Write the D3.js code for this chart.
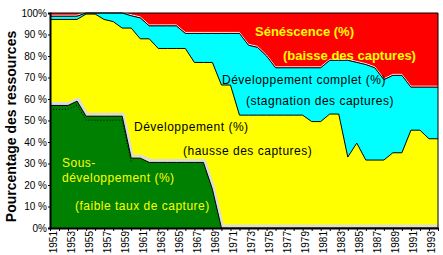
<!DOCTYPE html>
<html>
<head>
<meta charset="utf-8">
<script src="https://cdn.jsdelivr.net/npm/d3@7"></script>
<style>
  body { margin: 0; background: #fff; }
  svg text { font-family: Arial, "Liberation Sans", sans-serif; }
</style>
</head>
<body>
<div id="chart"></div>
<script>
// years shown on the category axis
const years = d3.range(1951, 1995);

// share of stocks in each phase (%)
const sousDev = [57, 57, 57, 59, 52, 52, 52, 52, 52, 32.5,
                 32.5, 30.5, 30.5, 30.5, 30.5, 30.5, 30.5, 30.5, 18, 0,
                 0, 0, 0, 0, 0, 0, 0, 0, 0, 0,
                 0, 0, 0, 0, 0, 0, 0, 0, 0, 0,
                 0, 0, 0, 0];
const dev = [40, 40, 40, 38, 47.5, 47.5, 45, 44, 41, 60.5,
             55.5, 57.5, 53, 53, 53, 53, 46.5, 46.5, 59, 66.5,
             66.5, 52.5, 52.5, 52.5, 52.5, 52.5, 52.5, 52.5, 52.5, 49.5,
             49.5, 53, 53, 33, 39.5, 31.6, 31.6, 31.6, 35, 35,
             45.5, 45.5, 41.5, 41.5];
const devComplet = [1.5, 1.5, 1.5, 1.5, 0.5, 0.5, 3, 4, 7, 5.7,
                    9.7, 6, 10.5, 10.5, 10.5, 7, 13.5, 13.5, 13.5, 24,
                    24, 38, 32.5, 31.5, 27.5, 22, 22, 22, 22, 25,
                    25, 25, 25, 45, 37.5, 44.4, 42.9, 37.4, 36, 36,
                    20, 20, 24, 24];
const senescence = [1.5, 1.5, 1.5, 1.5, 0, 0, 0, 0, 0, 1.3,
                    2.3, 6, 6, 6, 6, 9.5, 9.5, 9.5, 9.5, 9.5,
                    9.5, 9.5, 15, 16, 20, 25.5, 25.5, 25.5, 25.5, 25.5,
                    25.5, 22, 22, 22, 23, 24, 25.5, 31, 29, 29,
                    34.5, 34.5, 34.5, 34.5];

const yTicks = d3.range(0, 101, 10);

const keys = ["sous", "dev", "complet", "sen"];
const colors = {sous: "#008000", dev: "#ffff00", complet: "#00ffff", sen: "#ff0000"};

const table = years.map((yr, i) => ({
  year: yr, sous: sousDev[i], dev: dev[i], complet: devComplet[i], sen: senescence[i]
}));

const W = 443, H = 255;
const margin = {top: 13, right: 5, bottom: 27, left: 50};
const width = W - margin.left - margin.right,
      height = H - margin.top - margin.bottom;

const svg = d3.select("#chart").append("svg")
  .attr("width", W).attr("height", H);

const g = svg.append("g")
  .attr("transform", `translate(${margin.left},${margin.top})`);

const x = d3.scaleLinear().domain([1951, 1994]).range([0, width]);
const y = d3.scaleLinear().domain([0, 100]).range([height, 0]);

const stack = d3.stack().keys(keys);
const series = stack(table);

const area = d3.area()
  .x(d => x(d.data.year))
  .y0(d => y(d[0]))
  .y1(d => y(d[1]));

const topLine = d3.line()
  .x(d => x(d.data.year))
  .y(d => y(d[1]));

g.selectAll(".layer")
  .data(series)
  .enter().append("path")
  .attr("class", "layer")
  .attr("d", area)
  .attr("fill", d => colors[d.key]);

// light shadow over the green band
g.append("path")
  .attr("d", topLine(series[0]))
  .attr("fill", "none")
  .attr("stroke", "#dcdcdc")
  .attr("stroke-width", 3)
  .attr("transform", "translate(1,-2)");
g.append("path")
  .attr("d", area(series[0]))
  .attr("fill", colors.sous);
g.append("path")
  .attr("d", topLine(series[0]))
  .attr("fill", "none")
  .attr("stroke", "#000")
  .attr("stroke-width", 1);

// dotted trace inside the green band
g.append("path")
  .attr("d", topLine(series[0].filter(d => d.data.year <= 1960)))
  .attr("fill", "none")
  .attr("stroke", "#000")
  .attr("stroke-width", 1)
  .attr("stroke-dasharray", "1,2")
  .attr("transform", "translate(0,4)");

// yellow / cyan boundary
g.append("path")
  .attr("d", topLine(series[1]))
  .attr("fill", "none")
  .attr("stroke", "#000")
  .attr("stroke-width", 1);

// cyan / red boundary
g.append("path")
  .attr("d", topLine(series[2]))
  .attr("fill", "none")
  .attr("stroke", "#fff")
  .attr("stroke-width", 1)
  .attr("transform", "translate(0,-1)");
g.append("path")
  .attr("d", topLine(series[2]))
  .attr("fill", "none")
  .attr("stroke", "#000")
  .attr("stroke-width", 1);

// frame
g.append("line").attr("x1", 0).attr("x2", width).attr("y1", 0).attr("y2", 0)
  .attr("stroke", "#000");
g.append("line").attr("x1", width).attr("x2", width).attr("y1", 0).attr("y2", height)
  .attr("stroke", "#000");

// axes
const yAxis = g.append("g")
  .call(d3.axisLeft(y)
    .tickValues(yTicks)
    .tickSize(2)
    .tickPadding(1)
    .tickFormat(d => (d === 0 || d === 100) ? d + "%" : d + " %"));
yAxis.select(".domain").attr("stroke-width", 2);
yAxis.selectAll("text").style("font-size", "10px").attr("fill", "#000");

const xAxis = g.append("g")
  .attr("transform", `translate(0,${height})`)
  .call(d3.axisBottom(x)
    .tickValues(years)
    .tickSize(3)
    .tickSizeOuter(0)
    .tickFormat(d => d % 2 === 1 ? d : ""));
xAxis.select(".domain").attr("stroke-width", 2);
xAxis.selectAll("text")
  .attr("transform", "rotate(-90)")
  .attr("x", -3)
  .attr("y", 2.5)
  .attr("dy", "0.35em")
  .style("text-anchor", "end")
  .style("font-size", "10px")
  .attr("fill", "#000");

svg.append("text")
  .attr("transform", `translate(16,${margin.top + height / 2 + 6}) rotate(-90)`)
  .attr("text-anchor", "middle")
  .style("font-size", "14px")
  .style("font-weight", "bold")
  .text("Pourcentage des ressources");

// labels in the areas
const labels = [
  {t: "Sénéscence (%)", x: 255, y: 36, c: "#ffff00", b: true},
  {t: "(baisse des captures)", x: 283, y: 60, c: "#ffff00", b: true},
  {t: "Développement complet (%)", x: 222, y: 84, c: "#000", b: false},
  {t: "(stagnation des captures)", x: 246, y: 105, c: "#000", b: false},
  {t: "Développement (%)", x: 134, y: 131, c: "#000", b: false},
  {t: "(hausse des captures)", x: 183, y: 155, c: "#000", b: false},
  {t: "Sous-", x: 62, y: 167, c: "#ffff00", b: false},
  {t: "développement (%)", x: 62, y: 182, c: "#ffff00", b: false},
  {t: "(faible taux de capture)", x: 75, y: 210, c: "#ffff00", b: false}
];

svg.selectAll(".lbl")
  .data(labels)
  .enter().append("text")
  .attr("class", "lbl")
  .attr("x", d => d.x)
  .attr("y", d => d.y)
  .attr("fill", d => d.c)
  .style("font-size", d => d.b ? "13px" : "12px")
  .style("font-weight", d => d.b ? "bold" : "normal")
  .style("letter-spacing", d => d.b ? "0px" : "0.5px")
  .text(d => d.t);
</script>
</body>
</html>
